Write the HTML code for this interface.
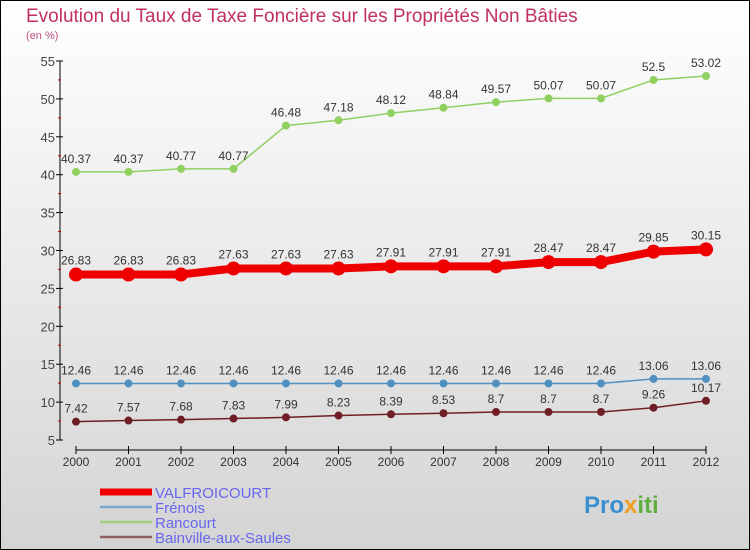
<!DOCTYPE html>
<html><head><meta charset="utf-8"><style>
body{margin:0}
#c{width:750px;height:550px;position:relative;box-sizing:border-box;border:1px solid #000;background:linear-gradient(#ffffff,#d4d4d4);font-family:"Liberation Sans",sans-serif;overflow:hidden}
</style></head><body>
<div id="c">
<svg width="750" height="550" style="position:absolute;left:-1px;top:-1px" id="s">
<text x="26" y="22" font-size="19" fill="#c03060">Evolution du Taux de Taxe Foncière sur les Propriétés Non Bâties</text>
<text x="26" y="39" font-size="11" fill="#c05080">(en %)</text>
<g id="axes"></g><g id="series"></g>
<text x="584" y="513" font-size="24" font-weight="bold" fill="#3a8fd0">Pro<tspan fill="#f0a020">x</tspan><tspan fill="#60b040">iti</tspan></text>
</svg>
</div>
<script>
const years=[2000,2001,2002,2003,2004,2005,2006,2007,2008,2009,2010,2011,2012];
const valfroicourt=[26.83,26.83,26.83,27.63,27.63,27.63,27.91,27.91,27.91,28.47,28.47,29.85,30.15];
const frenois=[12.46,12.46,12.46,12.46,12.46,12.46,12.46,12.46,12.46,12.46,12.46,13.06,13.06];
const rancourt=[40.37,40.37,40.77,40.77,46.48,47.18,48.12,48.84,49.57,50.07,50.07,52.5,53.02];
const bainville=[7.42,7.57,7.68,7.83,7.99,8.23,8.39,8.53,8.7,8.7,8.7,9.26,10.17];
const yTicks=[5,10,15,20,25,30,35,40,45,50,55];
const NS="http://www.w3.org/2000/svg";
const X=i=>76+i*52.5, Y=v=>440-(v-5)*7.58;
function mk(t,a,p){const e=document.createElementNS(NS,t);for(const k in a)e.setAttribute(k,a[k]);p.appendChild(e);return e;}
const ax=document.getElementById('axes'), sg=document.getElementById('series');
let l=mk('line',{x1:60,y1:Y(55),x2:60,y2:Y(5),stroke:'#000'},ax);


l=mk('line',{x1:X(0),y1:450,x2:X(12),y2:450,stroke:'#000'},ax);


yTicks.forEach((v,k)=>{
 mk('line',{x1:56,y1:Y(v),x2:63,y2:Y(v),stroke:'#000'},ax);
 if(k<yTicks.length-1) mk('line',{x1:58,y1:Y(v+2.5),x2:61,y2:Y(v+2.5),stroke:'#c00'},ax);
 const t=mk('text',{x:55,y:Y(v)+5,'text-anchor':'end','font-size':13,fill:'#444'},ax);
 t.textContent=v;
 
 
});
years.forEach((yr,i)=>{
 mk('line',{x1:X(i),y1:446,x2:X(i),y2:454,stroke:'#000'},ax);
 const t=mk('text',{x:X(i),y:466,'text-anchor':'middle','font-size':12,fill:'#333'},ax);
 t.textContent=yr;
 
 
});
function series(vals,color,w,r,name,lblOff){
 const p=mk('polyline',{points:vals.map((v,i)=>X(i)+','+Y(v)).join(' '),fill:'none',stroke:color,'stroke-width':w},sg);
 
 
 vals.forEach((v,i)=>{
  const c=mk('circle',{cx:X(i),cy:Y(v),r:r,fill:color},sg);
  
  
  const t=mk('text',{x:X(i),y:Y(v)+lblOff,'text-anchor':'middle','font-size':12,fill:'#333'},sg);
  t.textContent=v;
  
  
 });
}
series(bainville,'#6e1e24',1.5,4,'bainville',-9);
series(frenois,'#5090c0',1.5,4,'frenois',-9);
series(rancourt,'#90d060',1.5,4,'rancourt',-9);
series(valfroicourt,'#ee0000',8,7,'valfroicourt',-10);
const legend=[['VALFROICOURT','#ee0000',7],['Frénois','#7aaacc',2.5],['Rancourt','#a0d080',2.5],['Bainville-aux-Saules','#906060',2.5]];
legend.forEach((e,i)=>{
 const y=492+i*15;
 const ln=mk('line',{x1:100,y1:y,x2:152,y2:y,stroke:e[1],'stroke-width':e[2]},sg);
 
 
 const t=mk('text',{x:155,y:y+6,'font-size':15,fill:'#6666ee'},sg);
 t.textContent=e[0];
 
 
});
</script>
</body></html>
